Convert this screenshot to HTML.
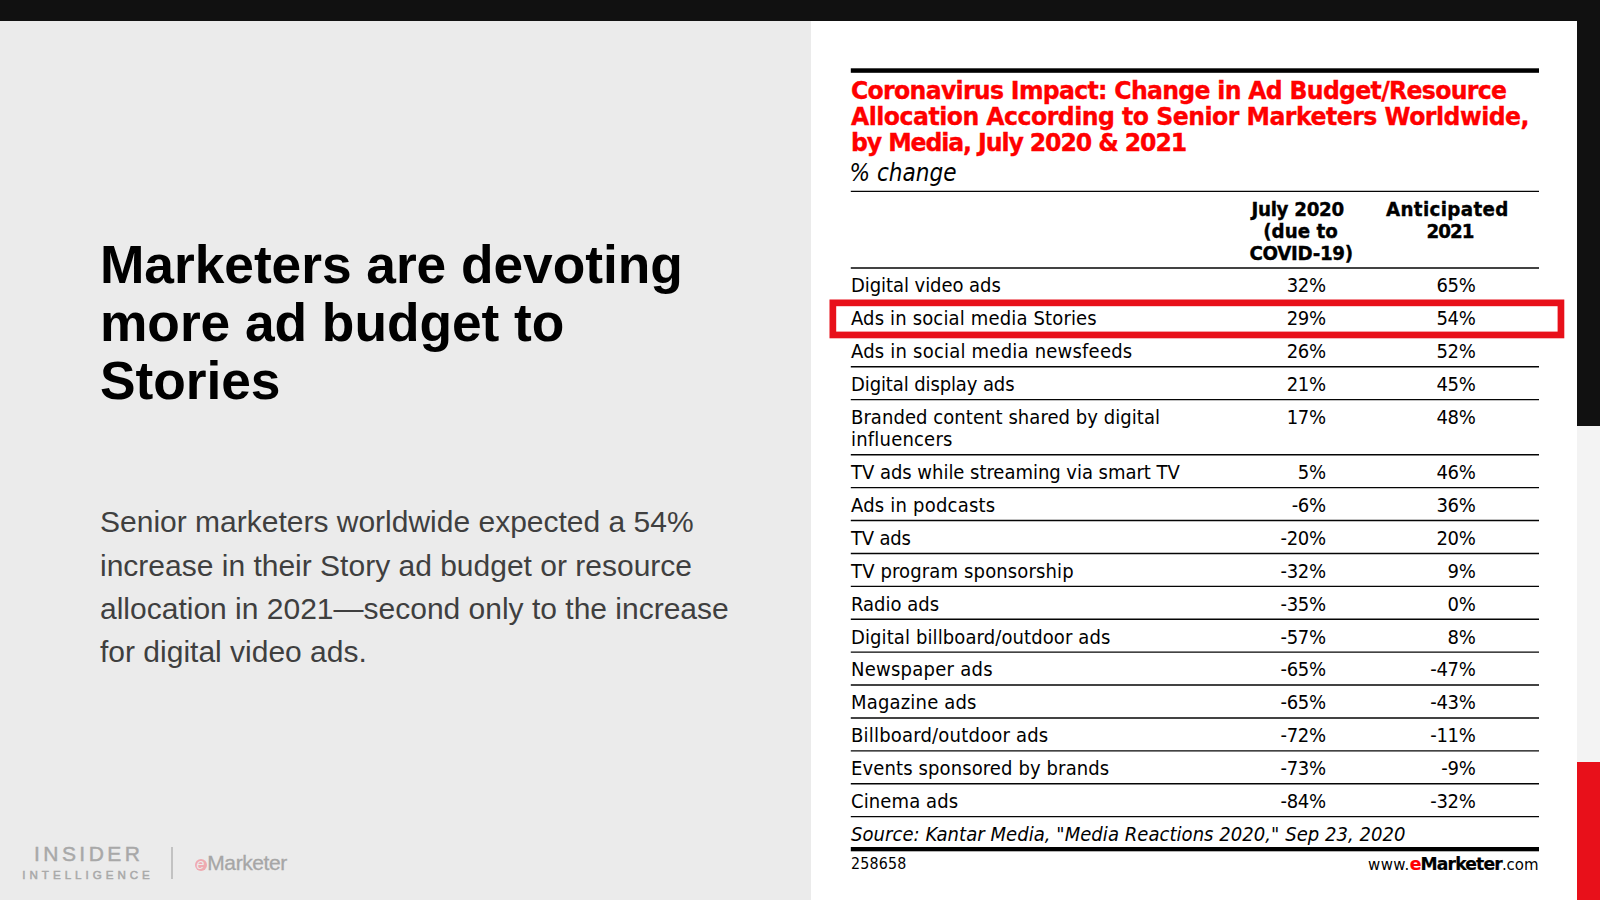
<!DOCTYPE html><html><head><meta charset="utf-8"><title>Marketers are devoting more ad budget to Stories</title><style>
*{margin:0;padding:0;box-sizing:border-box}
html,body{width:1600px;height:900px;overflow:hidden;background:#fff}
body{position:relative;font-family:"Liberation Sans",sans-serif}
.abs{position:absolute;white-space:nowrap}
#left{left:0;top:0;width:811px;height:900px;background:#ebebeb}
#topbar{left:0;top:0;width:1600px;height:20.5px;background:#111}
#rb{left:1577px;top:0;width:23px;height:426px;background:#111}
#rg{left:1577px;top:426px;width:23px;height:336px;background:#f3f3f3}
#rr{left:1577px;top:762px;width:23px;height:138px;background:#e8101a}
h1{left:100px;top:236px;font-size:53.33px;line-height:57.8px;font-weight:bold;color:#000;letter-spacing:-0.05px}
#desc{left:100px;top:500.13px;font-size:30px;line-height:43.35px;color:#3f3f3f}
#rules{left:0;top:0;width:1600px;height:900px}
.ct{font:bold 23.6px/26px "DejaVu Sans", "Liberation Sans", sans-serif;color:#f00;-webkit-text-stroke:0.35px #f00}
.sub{font:italic 24px/28px "DejaVu Sans Condensed", "DejaVu Sans", "Liberation Sans", sans-serif;color:#000}
.lab{font:20.0px/22px "DejaVu Sans Condensed", "DejaVu Sans", "Liberation Sans", sans-serif;color:#000}
.v{font:20.0px/22px "DejaVu Sans Condensed", "DejaVu Sans", "Liberation Sans", sans-serif;color:#000;text-align:right}
.hd{font:bold 18.3px/22px "DejaVu Sans", "Liberation Sans", sans-serif;color:#000;-webkit-text-stroke:0.35px #000}
.src{font:italic 20.0px/24px "DejaVu Sans Condensed", "DejaVu Sans", "Liberation Sans", sans-serif;color:#000}
.idn{font:15.8px/18px "DejaVu Sans Condensed", "DejaVu Sans", "Liberation Sans", sans-serif;color:#000}
.www{font:16.6px/20px "DejaVu Sans Condensed", "DejaVu Sans", "Liberation Sans", sans-serif;color:#000}
.www b{font-family:"DejaVu Sans", "Liberation Sans", sans-serif;font-size:17.2px;letter-spacing:-0.85px;-webkit-text-stroke:0.2px}
.www i{font-style:normal;color:#f00}
.lg1{left:34px;top:842.3px;font:21px/23px "Liberation Sans",sans-serif;color:#a8a8a8;letter-spacing:3.45px;-webkit-text-stroke:0.45px #a8a8a8}
.lg2{left:22.3px;top:868.1px;font:11.6px/14px "Liberation Sans",sans-serif;color:#a9a9a9;letter-spacing:3.98px;-webkit-text-stroke:0.5px #a9a9a9}
#lgbar{left:171px;top:847px;width:1.8px;height:32px;background:#c2c2c2}
#lgc{left:194.6px;top:858.9px;width:12.4px;height:12.2px;border-radius:50%;background:#efaab0}
#lge{left:196.6px;top:855.6px;font:italic 14px/16px "Liberation Sans",sans-serif;color:#ebebeb}
.lg3{left:207.3px;top:850.6px;font:21px/24px "Liberation Sans",sans-serif;color:#a6a6a6;letter-spacing:-0.42px;-webkit-text-stroke:0.3px #a6a6a6}
</style></head><body>
<div id="left" class="abs"></div>
<div id="topbar" class="abs"></div><div id="rb" class="abs"></div><div id="rg" class="abs"></div><div id="rr" class="abs"></div>
<h1 class="abs">Marketers are devoting<br>more ad budget to<br>Stories</h1>
<p id="desc" class="abs">Senior marketers worldwide expected a 54%<br><span style="position:relative;top:1px">increase in their Story ad budget or resource</span><br>allocation in 2021—second only to the increase<br>for digital video ads.</p>
<div class="abs lg1" id="lg1">INSIDER</div><div class="abs lg2" id="lg2">INTELLIGENCE</div><div class="abs" id="lgbar"></div><div class="abs" id="lgc"></div><div class="abs" id="lge">e</div><div class="abs lg3" id="lg3">Marketer</div>
<svg id="rules" class="abs" width="1600" height="900" viewBox="0 0 1600 900"><rect x="850.8" y="68.3" width="688.2" height="4.5" fill="#000"/><rect x="850.8" y="847" width="688.2" height="4.3" fill="#000"/><line x1="850.8" x2="1539" y1="191.35" y2="191.35" stroke="#050505" stroke-width="1.4"/><line x1="850.8" x2="1539" y1="268.0" y2="268.0" stroke="#050505" stroke-width="1.4"/><line x1="850.8" x2="1539" y1="366.7" y2="366.7" stroke="#050505" stroke-width="1.4"/><line x1="850.8" x2="1539" y1="399.6" y2="399.6" stroke="#050505" stroke-width="1.4"/><line x1="850.8" x2="1539" y1="454.72" y2="454.72" stroke="#050505" stroke-width="1.4"/><line x1="850.8" x2="1539" y1="487.62" y2="487.62" stroke="#050505" stroke-width="1.4"/><line x1="850.8" x2="1539" y1="520.53" y2="520.53" stroke="#050505" stroke-width="1.4"/><line x1="850.8" x2="1539" y1="553.43" y2="553.43" stroke="#050505" stroke-width="1.4"/><line x1="850.8" x2="1539" y1="586.34" y2="586.34" stroke="#050505" stroke-width="1.4"/><line x1="850.8" x2="1539" y1="619.24" y2="619.24" stroke="#050505" stroke-width="1.4"/><line x1="850.8" x2="1539" y1="652.15" y2="652.15" stroke="#050505" stroke-width="1.4"/><line x1="850.8" x2="1539" y1="685.05" y2="685.05" stroke="#050505" stroke-width="1.4"/><line x1="850.8" x2="1539" y1="717.96" y2="717.96" stroke="#050505" stroke-width="1.4"/><line x1="850.8" x2="1539" y1="750.86" y2="750.86" stroke="#050505" stroke-width="1.4"/><line x1="850.8" x2="1539" y1="783.77" y2="783.77" stroke="#050505" stroke-width="1.4"/><line x1="850.8" x2="1539" y1="816.67" y2="816.67" stroke="#050505" stroke-width="1.4"/><rect x="832.85" y="302.85" width="728.1" height="32.1" fill="none" stroke="#e8101a" stroke-width="6.7"/></svg>
<div class="abs ct" id="t1" style="left:851px;top:77.93px;letter-spacing:-0.702px;transform:scaleY(1.025);transform-origin:0 21.17px;">Coronavirus Impact: Change in Ad Budget/Resource</div>
<div class="abs ct" id="t2" style="left:851px;top:103.83px;letter-spacing:-0.524px;transform:scaleY(1.025);transform-origin:0 21.17px;">Allocation According to Senior Marketers Worldwide,</div>
<div class="abs ct" id="t3" style="left:851px;top:130.43px;letter-spacing:-1.100px;transform:scaleY(1.025);transform-origin:0 21.17px;">by Media, July 2020 &amp; 2021</div>
<div class="abs sub" id="sub" style="left:849.6px;top:158.95px;letter-spacing:0.000px;">% change</div>
<div class="abs hd" id="h1a" style="left:1197.7px;width:200px;text-align:center;top:198.67px;letter-spacing:-0.310px;transform:scaleY(1.08);transform-origin:0 17.33px">July 2020</div>
<div class="abs hd" id="h1b" style="left:1200.5px;width:200px;text-align:center;top:221.07px;letter-spacing:0.000px;transform:scaleY(1.08);transform-origin:0 17.33px">(due to</div>
<div class="abs hd" id="h1c" style="left:1201.1px;width:200px;text-align:center;top:243.37px;letter-spacing:-0.350px;transform:scaleY(1.08);transform-origin:0 17.33px">COVID-19)</div>
<div class="abs hd" id="h2a" style="left:1347.4px;width:200px;text-align:center;top:198.67px;letter-spacing:0.350px;transform:scaleY(1.08);transform-origin:0 17.33px">Anticipated</div>
<div class="abs hd" id="h2b" style="left:1350px;width:200px;text-align:center;top:221.07px;letter-spacing:-1.000px;transform:scaleY(1.08);transform-origin:0 17.33px">2021</div>
<div class="abs lab" id="r0" style="left:851px;top:274.28px;letter-spacing:-0.062px;">Digital video ads</div>
<div class="abs v" style="right:274.2px;top:274.28px;letter-spacing:-0.3px">32%</div>
<div class="abs v" style="right:124.5px;top:274.28px;letter-spacing:-0.3px">65%</div>
<div class="abs lab" id="r1" style="left:851px;top:307.18px;letter-spacing:0.154px;">Ads in social media Stories</div>
<div class="abs v" style="right:274.2px;top:307.18px;letter-spacing:-0.3px">29%</div>
<div class="abs v" style="right:124.5px;top:307.18px;letter-spacing:-0.3px">54%</div>
<div class="abs lab" id="r2" style="left:851px;top:340.08px;letter-spacing:0.214px;">Ads in social media newsfeeds</div>
<div class="abs v" style="right:274.2px;top:340.08px;letter-spacing:-0.3px">26%</div>
<div class="abs v" style="right:124.5px;top:340.08px;letter-spacing:-0.3px">52%</div>
<div class="abs lab" id="r3" style="left:851px;top:372.98px;letter-spacing:-0.111px;">Digital display ads</div>
<div class="abs v" style="right:274.2px;top:372.98px;letter-spacing:-0.3px">21%</div>
<div class="abs v" style="right:124.5px;top:372.98px;letter-spacing:-0.3px">45%</div>
<div class="abs lab" id="r4" style="left:851px;top:405.88px;letter-spacing:0.062px;">Branded content shared by digital</div>
<div class="abs lab" id="r4b" style="left:851px;top:428.48px;letter-spacing:0.200px;">influencers</div>
<div class="abs v" style="right:274.2px;top:405.88px;letter-spacing:-0.3px">17%</div>
<div class="abs v" style="right:124.5px;top:405.88px;letter-spacing:-0.3px">48%</div>
<div class="abs lab" id="r5" style="left:851px;top:461.00px;letter-spacing:-0.029px;">TV ads while streaming via smart TV</div>
<div class="abs v" style="right:274.2px;top:461.00px;letter-spacing:-0.3px">5%</div>
<div class="abs v" style="right:124.5px;top:461.00px;letter-spacing:-0.3px">46%</div>
<div class="abs lab" id="r6" style="left:851px;top:493.90px;letter-spacing:0.214px;">Ads in podcasts</div>
<div class="abs v" style="right:274.2px;top:493.90px;letter-spacing:-0.3px">-6%</div>
<div class="abs v" style="right:124.5px;top:493.90px;letter-spacing:-0.3px">36%</div>
<div class="abs lab" id="r7" style="left:851px;top:526.81px;letter-spacing:-0.200px;">TV ads</div>
<div class="abs v" style="right:274.2px;top:526.81px;letter-spacing:-0.3px">-20%</div>
<div class="abs v" style="right:124.5px;top:526.81px;letter-spacing:-0.3px">20%</div>
<div class="abs lab" id="r8" style="left:851px;top:559.71px;letter-spacing:0.143px;">TV program sponsorship</div>
<div class="abs v" style="right:274.2px;top:559.71px;letter-spacing:-0.3px">-32%</div>
<div class="abs v" style="right:124.5px;top:559.71px;letter-spacing:-0.3px">9%</div>
<div class="abs lab" id="r9" style="left:851px;top:592.62px;letter-spacing:0.000px;">Radio ads</div>
<div class="abs v" style="right:274.2px;top:592.62px;letter-spacing:-0.3px">-35%</div>
<div class="abs v" style="right:124.5px;top:592.62px;letter-spacing:-0.3px">0%</div>
<div class="abs lab" id="r10" style="left:851px;top:625.52px;letter-spacing:0.107px;">Digital billboard/outdoor ads</div>
<div class="abs v" style="right:274.2px;top:625.52px;letter-spacing:-0.3px">-57%</div>
<div class="abs v" style="right:124.5px;top:625.52px;letter-spacing:-0.3px">8%</div>
<div class="abs lab" id="r11" style="left:851px;top:658.43px;letter-spacing:0.250px;">Newspaper ads</div>
<div class="abs v" style="right:274.2px;top:658.43px;letter-spacing:-0.3px">-65%</div>
<div class="abs v" style="right:124.5px;top:658.43px;letter-spacing:-0.3px">-47%</div>
<div class="abs lab" id="r12" style="left:851px;top:691.33px;letter-spacing:0.182px;">Magazine ads</div>
<div class="abs v" style="right:274.2px;top:691.33px;letter-spacing:-0.3px">-65%</div>
<div class="abs v" style="right:124.5px;top:691.33px;letter-spacing:-0.3px">-43%</div>
<div class="abs lab" id="r13" style="left:851px;top:724.24px;letter-spacing:0.200px;">Billboard/outdoor ads</div>
<div class="abs v" style="right:274.2px;top:724.24px;letter-spacing:-0.3px">-72%</div>
<div class="abs v" style="right:124.5px;top:724.24px;letter-spacing:-0.3px">-11%</div>
<div class="abs lab" id="r14" style="left:851px;top:757.14px;letter-spacing:0.120px;">Events sponsored by brands</div>
<div class="abs v" style="right:274.2px;top:757.14px;letter-spacing:-0.3px">-73%</div>
<div class="abs v" style="right:124.5px;top:757.14px;letter-spacing:-0.3px">-9%</div>
<div class="abs lab" id="r15" style="left:851px;top:790.05px;letter-spacing:0.111px;">Cinema ads</div>
<div class="abs v" style="right:274.2px;top:790.05px;letter-spacing:-0.3px">-84%</div>
<div class="abs v" style="right:124.5px;top:790.05px;letter-spacing:-0.3px">-32%</div>
<div class="abs src" id="src" style="left:851px;top:821.58px;letter-spacing:0.053px;">Source: Kantar Media, "Media Reactions 2020," Sep 23, 2020</div>
<div class="abs idn" id="idn" style="left:851px;top:855.13px;letter-spacing:0.200px;">258658</div>
<div class="abs www" id="www" style="right:61.5px;top:853.76px;letter-spacing:0.000px"><span style="letter-spacing:0.45px">www.</span><b><i>e</i>Marketer</b>.com</div>
</body></html>
